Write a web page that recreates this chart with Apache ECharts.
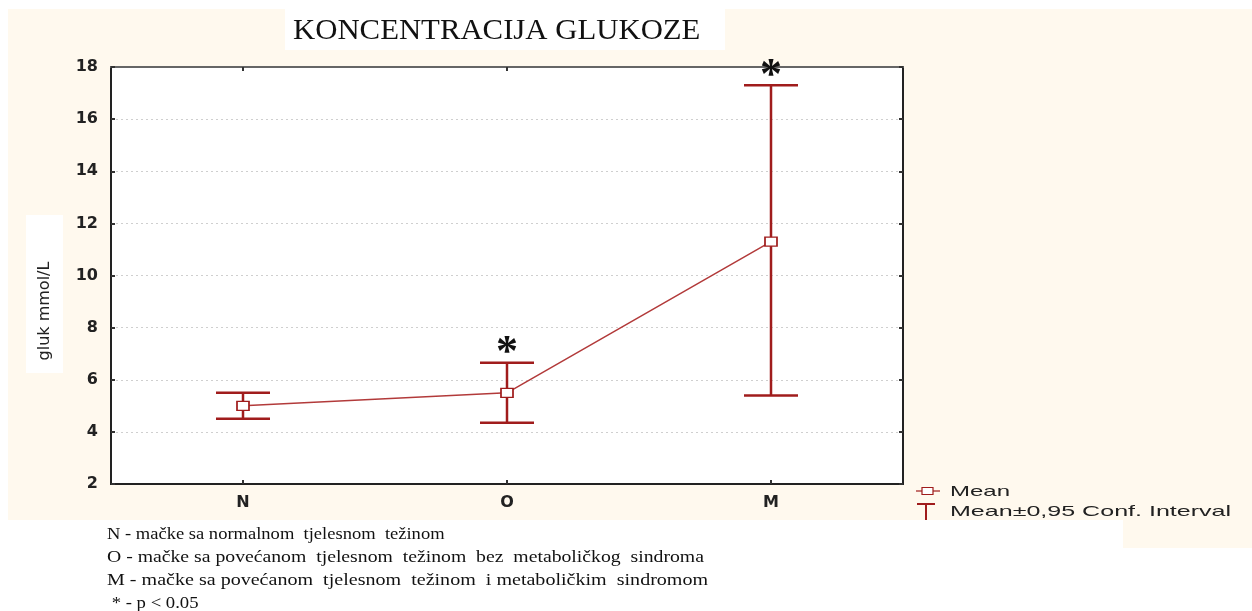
<!DOCTYPE html>
<html>
<head>
<meta charset="utf-8">
<script src="https://cdn.jsdelivr.net/npm/echarts@6/dist/echarts.min.js"></script>
<style>
html,body{margin:0;padding:0;background:#ffffff;}
#chart{width:1252px;height:611px;}
</style>
</head>
<body>
<div id="chart"></div>
<script>
// ---- data ----
const categories = ['N', 'O', 'M'];
const means = [5.0, 5.5, 11.3];
const ciLow = [4.5, 4.35, 5.4];
const ciHigh = [5.5, 6.65, 17.3];
const significance = ['', '*', '*'];
const yMin = 2, yMax = 18, yStep = 2;
const titleText = 'KONCENTRACIJA GLUKOZE';
const yName = 'gluk mmol/L';
const legendNames = ['Mean', 'Mean\u00b10,95 Conf. Interval'];
const footnotes = [
  'N - mačke sa normalnom  tjelesnom  težinom',
  'O - mačke sa povećanom  tjelesnom  težinom  bez  metaboličkog  sindroma',
  'M - mačke sa povećanom  tjelesnom  težinom  i metaboličkim  sindromom',
  ' * - p < 0.05'
];
const footScale = [1.09, 1.16, 1.18, 1.1];

const RED = '#a01c1c';
const chart = echarts.init(document.getElementById('chart'), null, {renderer: 'canvas'});

const sansLbl = 'DejaVu Sans';
const errData = categories.map((c, i) => [i, ciLow[i], ciHigh[i], significance[i]]);

const graphics = [
  {type: 'rect', z: -10, shape: {x: 8, y: 9, width: 1244, height: 511}, style: {fill: '#fff9ee'}},
  {type: 'rect', z: -10, shape: {x: 1123, y: 519, width: 129, height: 29}, style: {fill: '#fff9ee'}},
  {type: 'rect', z: -9, shape: {x: 285, y: 0, width: 440, height: 50}, style: {fill: '#ffffff'}},
  {type: 'rect', z: -9, shape: {x: 26, y: 215, width: 37, height: 158}, style: {fill: '#ffffff'}},
  {type: 'text', x: 293, y: 31, scaleX: 1.025, style: {text: titleText, font: '30px "Liberation Serif"', fill: '#111', textVerticalAlign: 'middle'}},
  {type: 'text', x: 45, y: 311, rotation: Math.PI / 2, style: {text: yName, font: '16px "DejaVu Sans"', fill: '#222', textAlign: 'center', textVerticalAlign: 'middle'}},
  // legend
  {type: 'line', shape: {x1: 916, y1: 491, x2: 940, y2: 491}, style: {stroke: RED, lineWidth: 1.2}},
  {type: 'rect', shape: {x: 922, y: 487.5, width: 11, height: 7}, style: {fill: '#fff', stroke: RED, lineWidth: 1.2}},
  {type: 'text', x: 950, y: 492, scaleX: 1.6, style: {text: legendNames[0], font: '15px "Liberation Sans"', fill: '#222', textVerticalAlign: 'middle'}},
  {type: 'line', shape: {x1: 917, y1: 504, x2: 935, y2: 504}, style: {stroke: RED, lineWidth: 2}},
  {type: 'line', shape: {x1: 926, y1: 504, x2: 926, y2: 520}, style: {stroke: RED, lineWidth: 2}},
  {type: 'text', x: 950, y: 512, scaleX: 1.67, style: {text: legendNames[1], font: '15px "Liberation Sans"', fill: '#222', textVerticalAlign: 'middle'}}
];
footnotes.forEach((t, i) => {
  graphics.push({type: 'text', x: 107, y: 535 + i * 22.7, scaleX: footScale[i], style: {text: t, font: '17px "Liberation Serif"', fill: '#111', textVerticalAlign: 'middle'}});
});

const option = {
  backgroundColor: 'transparent',
  animation: false,
  graphic: graphics,
  grid: {left: 111, top: 67, width: 792, height: 417, show: true, backgroundColor: '#ffffff', borderColor: '#444', borderWidth: 2},
  xAxis: [
    {type: 'category', data: categories, boundaryGap: true,
     axisLine: {show: true, lineStyle: {color: '#222', width: 2}},
     axisTick: {show: true, inside: true, alignWithLabel: true, length: 4, lineStyle: {color: '#333', width: 2}},
     axisLabel: {margin: 11, fontFamily: sansLbl, fontWeight: 'bold', fontSize: 16, color: '#222'},
     splitLine: {show: false}},
    {type: 'category', data: categories, boundaryGap: true, position: 'top',
     axisLine: {show: true, lineStyle: {color: '#666', width: 2}},
     axisTick: {show: true, inside: true, alignWithLabel: true, length: 4, lineStyle: {color: '#333', width: 2}},
     axisLabel: {show: false}, splitLine: {show: false}}
  ],
  yAxis: [
    {type: 'value', min: yMin, max: yMax, interval: yStep,
     axisLine: {show: true, lineStyle: {color: '#222', width: 2}},
     axisTick: {show: true, inside: true, length: 4, lineStyle: {color: '#333', width: 2}},
     axisLabel: {margin: 13, fontFamily: sansLbl, fontWeight: 'bold', fontSize: 16, color: '#222'},
     splitLine: {show: true, lineStyle: {color: '#cfcfcf', type: [2, 3], width: 1}}},
    {type: 'value', min: yMin, max: yMax, interval: yStep, position: 'right',
     axisLine: {show: true, lineStyle: {color: '#222', width: 2}},
     axisTick: {show: true, inside: true, length: 4, lineStyle: {color: '#333', width: 2}},
     axisLabel: {show: false}, splitLine: {show: false}}
  ],
  series: [
    {
      name: legendNames[1], type: 'custom', xAxisIndex: 0, yAxisIndex: 0, z: 3,
      data: errData,
      renderItem: function (params, api) {
        const i = api.value(0);
        const lo = api.coord([i, api.value(1)]);
        const hi = api.coord([i, api.value(2)]);
        const half = 27;
        const st = {stroke: RED, lineWidth: 2.5};
        const children = [
          {type: 'line', shape: {x1: lo[0], y1: lo[1], x2: hi[0], y2: hi[1]}, style: st},
          {type: 'line', shape: {x1: hi[0] - half, y1: hi[1], x2: hi[0] + half, y2: hi[1]}, style: st},
          {type: 'line', shape: {x1: lo[0] - half, y1: lo[1], x2: lo[0] + half, y2: lo[1]}, style: st}
        ];
        const sig = errData[params.dataIndex][3];
        if (sig) {
          children.push({type: 'text', x: hi[0], y: hi[1] - 9, style: {text: sig, font: 'bold 44px "Liberation Serif"', fill: '#111', textAlign: 'center', textVerticalAlign: 'middle'}});
        }
        return {type: 'group', children: children};
      }
    },
    {
      name: legendNames[0], type: 'line', xAxisIndex: 0, yAxisIndex: 0, z: 5,
      data: means,
      symbol: 'rect', symbolSize: [12, 9], showSymbol: true,
      itemStyle: {color: '#ffffff', borderColor: RED, borderWidth: 1.5},
      lineStyle: {color: '#b23a3a', width: 1.5}
    }
  ]
};
chart.setOption(option);
</script>
</body>
</html>
